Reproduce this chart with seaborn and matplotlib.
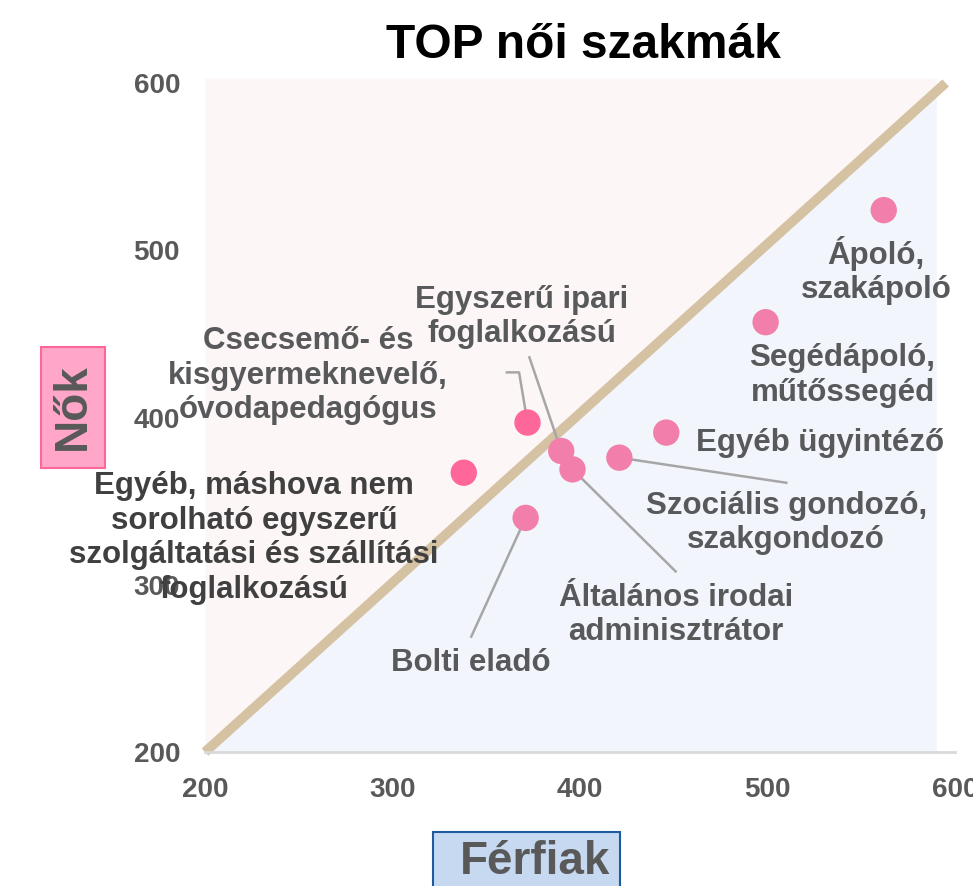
import numpy as np
import pandas as pd
import matplotlib
matplotlib.use("Agg")
import matplotlib.pyplot as plt
from matplotlib.patches import Rectangle
import seaborn as sns

# data (thousand persons)
jobs = ["Ápoló,\nszakápoló", "Segédápoló,\nműtőssegéd", "Egyéb ügyintéző",
        "Szociális gondozó,\nszakgondozó", "Általános irodai\nadminisztrátor",
        "Egyszerű ipari\nfoglalkozású", "Csecsemő- és\nkisgyermeknevelő,\nóvodapedagógus",
        "Egyéb, máshova nem\nsorolható egyszerű\nszolgáltatási és szállítási\nfoglalkozású",
        "Bolti eladó"]
ferfiak = [562, 499, 446, 421, 396, 390, 372, 338, 371]
nok = [524, 457, 391, 376, 369, 380, 397, 367, 340]

ticks = [200, 300, 400, 500, 600]
diag_x = [200, 595]
diag_y = [200, 600]

# label placement (data coords) and leader lines
label_pos = [(558, 488), (540, 425), (528, 385), (510, 337), (451, 282),
             (369, 460), (255, 425), (226, 328), (342, 253)]
leaders = {
    6: [(361, 427), (367.5, 427)],
    5: [(373, 436)],
    3: [(510, 361)],
    4: [(451, 308)],
    8: [(342, 269)],
}

df = pd.DataFrame({"job": jobs, "Férfiak": ferfiak, "Nők": nok})
df["side"] = np.where(df["Nők"] > df["Férfiak"], "fel", "le")

plt.rcParams["font.family"] = ["Liberation Sans", "DejaVu Sans"]
plt.rcParams["font.weight"] = "bold"

fig = plt.figure(figsize=(9.73, 8.86), dpi=100)
ax = fig.add_axes([0.2107, 0.1512, 0.7708, 0.7551])
ax.set_xlim(200, 600)
ax.set_ylim(200, 600)

# background triangles
xs = np.linspace(200, 590, 50)
yl = np.interp(xs, diag_x, diag_y)
ax.fill_between(xs, yl, 603, color="#fdf6f6", lw=0, zorder=0, clip_on=False)
ax.fill_between(xs, 200, yl, color="#f2f5fb", lw=0, zorder=0)
ax.plot(diag_x, diag_y, color="#d5c2a3", lw=7, solid_capstyle="butt", zorder=1, clip_on=False)

# leader lines
for i, pts in leaders.items():
    px = [p[0] for p in pts] + [ferfiak[i]]
    py = [p[1] for p in pts] + [nok[i]]
    ax.plot(px, py, color="#a6a6a6", lw=1.8, zorder=2, clip_on=False)

sns.scatterplot(data=df, x="Férfiak", y="Nők", hue="side",
                palette={"fel": "#ff6699", "le": "#f27eab"}, s=360,
                edgecolor="none", legend=False, zorder=3, ax=ax, clip_on=False)

for i, (tx, ty) in enumerate(label_pos):
    col = "#404040" if i == 7 else "#58595b"
    ax.text(tx, ty, jobs[i], ha="center", va="center", fontsize=22.5,
            fontweight="bold", color=col, linespacing=1.2, zorder=4)

ax.set_xticks(ticks)
ax.set_yticks(ticks)
ax.tick_params(length=0, labelsize=20, labelcolor="#595959", pad=18)
for lab in ax.get_xticklabels() + ax.get_yticklabels():
    lab.set_fontweight("bold")
ax.set_xlabel("")
ax.set_ylabel("")
for s in ["left", "top", "right"]:
    ax.spines[s].set_visible(False)
ax.spines["bottom"].set_color("#d9d9d9")
ax.spines["bottom"].set_linewidth(2)
ax.set_facecolor("none")

fig.text(583 / 973, 1 - 45 / 886, "TOP női szakmák", ha="center", va="center",
         fontsize=34.5, fontweight="bold", color="black")

# axis title boxes
fig.add_artist(Rectangle((41 / 973, 1 - 468 / 886), 64 / 973, 121 / 886,
                         transform=fig.transFigure, facecolor="#ffa6c9",
                         edgecolor="#ff6699", lw=1.5))
fig.text(73 / 973, 1 - 407 / 886, "Nők", rotation=90, ha="center", va="center",
         fontsize=33, fontweight="bold", color="#595959")
fig.add_artist(Rectangle((433 / 973, -0.01), 187 / 973, 1 - 832 / 886 + 0.01,
                         transform=fig.transFigure, facecolor="#c6d9f1",
                         edgecolor="#1f5aa0", lw=1.5))
fig.text(535 / 973, 1 - 862 / 886, "Férfiak", ha="center", va="center",
         fontsize=33, fontweight="bold", color="#595959")

fig.savefig("out.png", dpi=100)
